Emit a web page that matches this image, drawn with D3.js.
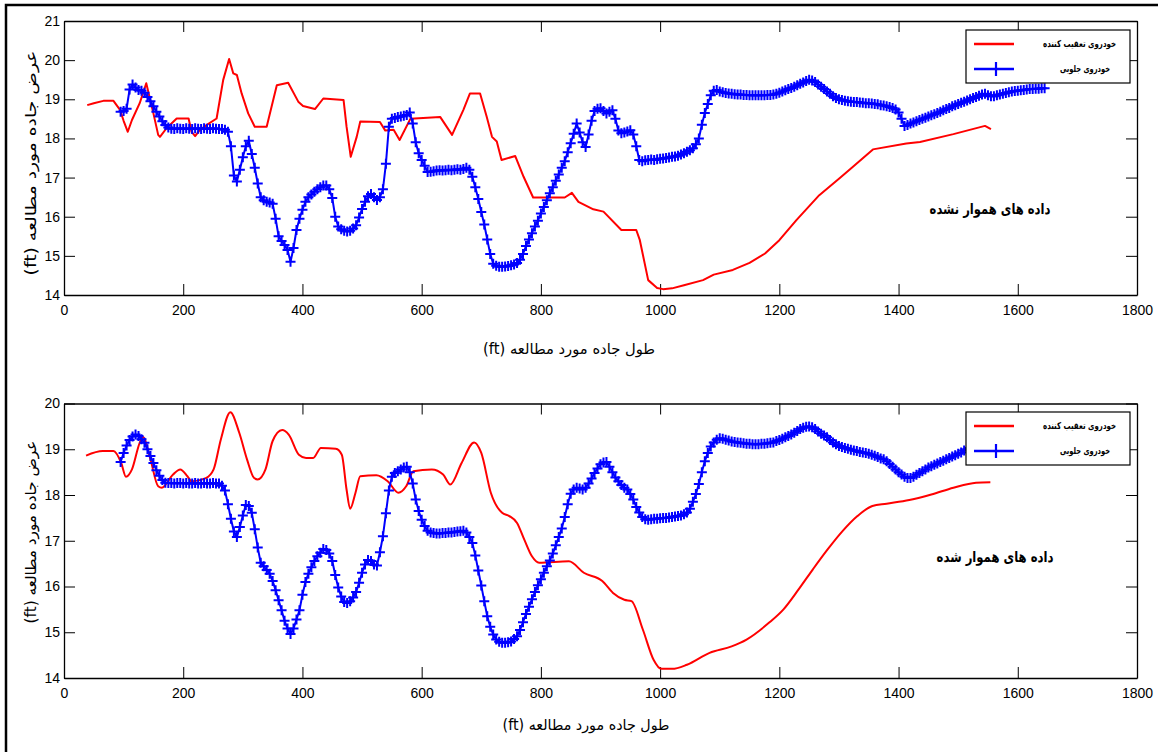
<!DOCTYPE html>
<html><head><meta charset="utf-8">
<script src="https://cdn.jsdelivr.net/npm/d3@7"></script>
<style>body{margin:0;background:#fff}svg{display:block}</style>
</head><body>
<svg id="c" width="1158" height="752"></svg>
<script>
// ---------- data ----------
const xTickValues = [0, 200, 400, 600, 800, 1000, 1200, 1400, 1600, 1800];
const yTicksTop = [14, 15, 16, 17, 18, 19, 20, 21];
const yTicksBottom = [14, 15, 16, 17, 18, 19, 20];

const legendLabels = ["خودروی تعقیب کننده", "خودروی جلویی"];
const yTitle = "عرض جاده مورد مطالعه (ft)";
const xTitle = "طول جاده مورد مطالعه (ft)";
const noteTop = "داده های هموار نشده";
const noteBottom = "داده های هموار شده";

// following vehicle (red), raw data - top panel
const redTopFt = [39,50,66,83,94,100,107,114,127,138,150,158,161,172,189,209,214,220,227,239,256,267,277,284,290,298,309,320,340,357,376,393,401,421,435,469,474,481,491,497,530,539,553,563,581,631,651,670,681,698,709,718,726,734,757,771,787,840,852,863,888,905,935,960,966,980,995,1005,1020,1040,1072,1090,1122,1150,1176,1200,1229,1267,1301,1324,1357,1413,1436,1492,1545,1555];
const redTopW = [18.85,18.90,18.96,18.96,18.73,18.45,18.17,18.47,18.90,19.41,18.64,18.09,18.04,18.26,18.51,18.51,18.17,18.06,18.20,18.34,18.51,19.49,20.03,19.66,19.62,19.15,18.64,18.30,18.30,19.36,19.42,18.94,18.83,18.75,19.02,18.98,18.30,17.53,18.04,18.43,18.42,18.20,18.22,17.96,18.50,18.55,18.09,18.73,19.15,19.15,18.56,18.04,17.92,17.45,17.55,17.02,16.49,16.49,16.61,16.38,16.19,16.13,15.66,15.66,15.40,14.38,14.18,14.15,14.17,14.25,14.38,14.52,14.64,14.82,15.06,15.40,15.92,16.55,16.98,17.28,17.72,17.87,17.91,18.11,18.32,18.24];

// leading vehicle (blue), raw data - top panel, sampled every 5 ft from 95 ft
const blueStartFt = 95, blueStepFt = 5;
const blueTopW = [
18.68,18.70,18.76,19.25,19.38,19.30,19.24,19.22,19.17,19.06,
18.95,18.82,18.68,18.56,18.44,18.34,18.28,18.25,18.24,18.26,
18.25,18.24,18.26,18.25,18.24,18.26,18.25,18.24,18.26,18.25,
18.24,18.26,18.25,18.24,18.24,18.22,18.17,17.80,17.05,16.90,
17.20,17.52,17.80,17.94,17.60,17.25,16.85,16.50,16.42,16.38,
16.36,16.33,15.95,15.50,15.38,15.28,15.15,14.85,15.20,15.66,
15.95,16.18,16.38,16.50,16.57,16.64,16.70,16.75,16.80,16.80,
16.70,16.48,16.00,15.75,15.68,15.64,15.62,15.64,15.70,15.78,
15.98,16.20,16.38,16.52,16.58,16.50,16.43,16.50,16.70,17.35,
18.30,18.50,18.52,18.55,18.56,18.58,18.60,18.66,18.38,17.90,
17.62,17.45,17.30,17.14,17.15,17.16,17.18,17.19,17.18,17.19,
17.20,17.19,17.20,17.21,17.20,17.22,17.25,17.20,17.02,16.75,
16.45,16.12,15.80,15.42,15.05,14.80,14.75,14.72,14.72,14.73,
14.74,14.76,14.78,14.82,14.90,15.05,15.25,15.42,15.58,15.75,
15.90,16.08,16.25,16.42,16.60,16.75,16.92,17.08,17.25,17.42,
17.65,17.88,18.12,18.38,18.15,17.90,17.78,18.10,18.45,18.70,
18.76,18.77,18.70,18.64,18.68,18.72,18.50,18.20,18.13,18.15,
18.18,18.21,18.10,17.80,17.45,17.42,17.44,17.45,17.46,17.45,
17.47,17.48,17.49,17.50,17.51,17.53,17.54,17.56,17.59,17.62,
17.66,17.70,17.75,17.85,18.00,18.35,18.65,18.88,19.10,19.22,
19.24,19.20,19.18,19.16,19.15,19.14,19.13,19.12,19.12,19.11,
19.11,19.10,19.10,19.10,19.10,19.10,19.10,19.11,19.11,19.12,
19.14,19.17,19.20,19.23,19.26,19.29,19.32,19.36,19.40,19.43,
19.47,19.50,19.48,19.44,19.38,19.32,19.26,19.20,19.14,19.08,
19.03,19.00,18.98,18.96,18.95,18.94,18.93,18.93,18.92,18.91,
18.90,18.90,18.89,18.88,18.87,18.85,18.84,18.82,18.80,18.78,
18.74,18.66,18.50,18.32,18.34,18.38,18.41,18.44,18.47,18.50,
18.53,18.56,18.59,18.62,18.65,18.68,18.72,18.75,18.78,18.82,
18.85,18.88,18.91,18.94,18.97,19.00,19.03,19.06,19.09,19.12,
19.14,19.10,19.08,19.08,19.10,19.12,19.14,19.16,19.18,19.20,
19.21,19.22,19.23,19.24,19.25,19.26,19.26,19.27,19.27,19.28,
19.28];

// following vehicle (red), smoothed - bottom panel
const redBotFt = [37,65,83,96,104,114,127,133,145,158,164,183,195,207,214,238,251,263,279,294,307,319,325,338,350,366,377,394,406,418,431,456,466,474,480,489,497,524,543,561,574,586,617,636,648,667,688,700,716,735,747,760,772,785,797,847,872,903,921,940,952,971,989,1002,1020,1045,1083,1120,1145,1182,1207,1232,1256,1281,1306,1331,1356,1380,1418,1455,1492,1530,1554];
const redBotW = [18.86,18.96,18.96,18.70,18.40,18.56,19.14,19.27,18.78,18.19,18.16,18.45,18.56,18.41,18.30,18.37,18.56,19.21,19.81,19.36,18.78,18.37,18.34,18.56,19.18,19.42,19.32,18.88,18.81,18.81,19.03,19.01,18.88,18.12,17.70,18.05,18.41,18.43,18.30,18.05,18.19,18.52,18.56,18.45,18.23,18.70,19.15,18.92,18.05,17.61,17.54,17.39,17.03,16.66,16.52,16.55,16.30,16.12,15.86,15.71,15.68,15.06,14.40,14.20,14.20,14.29,14.55,14.69,14.84,15.20,15.50,15.93,16.37,16.81,17.21,17.54,17.76,17.81,17.89,18.01,18.16,18.27,18.28];

// leading vehicle (blue), smoothed - bottom panel, every 5 ft from 95 ft
const blueBotW = [
18.72,18.92,19.08,19.20,19.28,19.32,19.29,19.22,19.14,19.00,
18.85,18.70,18.54,18.42,18.33,18.27,18.26,18.26,18.25,18.26,
18.26,18.25,18.26,18.25,18.25,18.26,18.25,18.25,18.26,18.25,
18.25,18.26,18.25,18.25,18.20,18.10,17.80,17.48,17.20,17.08,
17.30,17.55,17.78,17.76,17.61,17.25,16.85,16.52,16.44,16.36,
16.28,16.12,15.92,15.70,15.48,15.25,15.08,14.96,15.08,15.28,
15.48,15.82,16.10,16.28,16.42,16.56,16.66,16.74,16.82,16.80,
16.72,16.56,16.25,15.98,15.78,15.66,15.64,15.68,15.76,15.88,
16.08,16.30,16.48,16.58,16.56,16.48,16.46,16.75,17.10,17.60,
18.10,18.40,18.48,18.52,18.56,18.60,18.62,18.50,18.25,17.90,
17.65,17.46,17.32,17.22,17.18,17.17,17.16,17.16,17.17,17.17,
17.18,17.18,17.19,17.20,17.21,17.22,17.18,17.08,16.95,16.68,
16.35,16.02,15.68,15.35,15.12,14.95,14.84,14.79,14.77,14.77,
14.78,14.80,14.85,14.91,15.05,15.22,15.40,15.56,15.72,15.88,
16.03,16.16,16.30,16.44,16.57,16.72,16.90,17.08,17.27,17.52,
17.80,18.03,18.12,18.16,18.14,18.12,18.16,18.25,18.36,18.48,
18.58,18.67,18.71,18.72,18.62,18.50,18.38,18.30,18.22,18.16,
18.12,18.02,17.90,17.74,17.62,17.52,17.47,17.46,17.47,17.48,
17.48,17.49,17.50,17.50,17.51,17.52,17.53,17.54,17.55,17.58,
17.62,17.70,17.85,18.02,18.24,18.50,18.74,18.92,19.06,19.15,
19.21,19.24,19.23,19.21,19.19,19.17,19.16,19.15,19.14,19.13,
19.12,19.12,19.11,19.11,19.11,19.12,19.12,19.13,19.14,19.15,
19.18,19.20,19.23,19.26,19.29,19.32,19.36,19.40,19.44,19.47,
19.49,19.50,19.48,19.44,19.39,19.34,19.30,19.26,19.20,19.15,
19.11,19.07,19.05,19.03,19.01,18.99,18.97,18.96,18.94,18.93,
18.92,18.90,18.88,18.86,18.83,18.80,18.78,18.74,18.68,18.62,
18.56,18.50,18.45,18.40,18.37,18.37,18.40,18.44,18.48,18.52,
18.56,18.60,18.63,18.66,18.69,18.72,18.75,18.78,18.81,18.84,
18.87,18.90,18.93,18.97,19.00,19.03,19.06,19.09,19.12,19.14,
19.15,19.14,19.13,19.13,19.14,19.16,19.18,19.19,19.21,19.22,
19.23,19.24,19.25,19.25,19.26,19.27,19.27,19.28,19.28,19.29,
19.29];

// ---------- drawing ----------
const svg = d3.select("#c");
const NUM_FONT = "'Liberation Sans', Arial, sans-serif";
const AR_FONT = "'DejaVu Sans', sans-serif";
const RED = "#ff0000", BLUE = "#0000ff";

// outer frame
svg.append("path").attr("d", "M6,760V5H1160").attr("fill", "none")
  .attr("stroke", "#000").attr("stroke-width", 2.5);

const zip = (xs, ys) => xs.map((v, i) => [v, ys[i]]);
const stepped = ys => ys.map((v, i) => [blueStartFt + i * blueStepFt, v]);

// Arabic text fitted horizontally to a target width
// align: "middle" (centered on x) or "right" (right edge on x)
function fitText(parent, str, opts) {
  const t = parent.append("text").attr("x", 0).attr("y", 0)
    .attr("text-anchor", opts.align === "right" ? "start" : "middle").attr("direction", "rtl")
    .attr("font-family", AR_FONT).attr("font-size", opts.size)
    .attr("font-weight", opts.bold ? "bold" : "normal").attr("fill", "#000").text(str);
  const w = t.node().getComputedTextLength();
  const s = opts.width / w;
  t.attr("transform", `translate(${opts.x},${opts.y})${opts.rotate ? " rotate(-90)" : ""} scale(${s},1)`);
  return t;
}

function panel(cfg) {
  const x = d3.scaleLinear().domain([0, 1800]).range([64, 1137]);
  const y = d3.scaleLinear().domain([14, cfg.yMax]).range([cfg.bot, cfg.top]);
  const g = svg.append("g");

  const styleAxis = sel => {
    sel.selectAll("path.domain").attr("stroke", "#000").attr("stroke-width", 1.3);
    sel.selectAll(".tick line").attr("stroke", "#000").attr("stroke-width", 1);
    sel.selectAll("text").attr("font-family", NUM_FONT).attr("font-size", 14).attr("fill", "#000");
  };
  g.append("g").attr("transform", `translate(0,${cfg.bot})`)
    .call(d3.axisBottom(x).tickValues(xTickValues).tickSize(-11).tickSizeOuter(0).tickPadding(10).tickFormat(d3.format("d")))
    .call(styleAxis);
  g.append("g").attr("transform", `translate(0,${cfg.top})`)
    .call(d3.axisTop(x).tickValues(xTickValues).tickSize(-11).tickSizeOuter(0).tickFormat(""))
    .call(styleAxis);
  g.append("g").attr("transform", `translate(64,0)`)
    .call(d3.axisLeft(y).tickValues(cfg.yTicks).tickSize(-11).tickSizeOuter(0).tickPadding(4).tickFormat(d3.format("d")))
    .call(styleAxis);
  g.append("g").attr("transform", `translate(1137,0)`)
    .call(d3.axisRight(y).tickValues(cfg.yTicks).tickSize(-11).tickSizeOuter(0).tickFormat(""))
    .call(styleAxis);

  const line = d3.line().x(d => x(d[0])).y(d => y(d[1])).curve(cfg.curve);
  const red = zip(cfg.redFt, cfg.redW);
  g.append("path").datum(red).attr("d", line).attr("fill", "none")
    .attr("stroke", RED).attr("stroke-width", 2).attr("stroke-linejoin", "round");

  const blue = stepped(cfg.blueW);
  g.append("path").datum(blue).attr("d", d3.line().x(d => x(d[0])).y(d => y(d[1])))
    .attr("fill", "none").attr("stroke", BLUE).attr("stroke-width", 2);
  const m = 5;
  g.append("g").selectAll("path").data(blue).join("path")
    .attr("d", d => `M${x(d[0]) - m},${y(d[1])}H${x(d[0]) + m}M${x(d[0])},${y(d[1]) - m}V${y(d[1]) + m}`)
    .attr("stroke", BLUE).attr("stroke-width", 2).attr("fill", "none");

  // annotation
  fitText(g, cfg.note, { x: cfg.noteX, y: cfg.noteY, size: 15, bold: true, width: cfg.noteW });

  // axis titles
  fitText(g, xTitle, { x: cfg.xTitleX, y: cfg.xTitleY, size: 15, width: cfg.xTitleW });
  fitText(g, yTitle, { x: 36, y: cfg.yTitleY, size: 15, width: cfg.yTitleW, rotate: true });

  // legend
  const L = cfg.leg;
  const lg = g.append("g");
  lg.append("rect").attr("x", 966).attr("y", L).attr("width", 164).attr("height", 53)
    .attr("fill", "#fff").attr("stroke", "#000").attr("stroke-width", 1.2);
  lg.append("line").attr("x1", 974).attr("x2", 1014).attr("y1", L + 14).attr("y2", L + 14)
    .attr("stroke", RED).attr("stroke-width", 2.5);
  lg.append("line").attr("x1", 974).attr("x2", 1014).attr("y1", L + 39).attr("y2", L + 39)
    .attr("stroke", BLUE).attr("stroke-width", 2.5);
  lg.append("path").attr("d", `M989,${L + 39}H1003M996,${L + 32}V${L + 46}`)
    .attr("stroke", BLUE).attr("stroke-width", 2.2);
  fitText(lg, legendLabels[0], { x: 1116, y: L + 17, size: 9.5, bold: true, width: 73, align: "right" });
  fitText(lg, legendLabels[1], { x: 1110, y: L + 42, size: 9.5, bold: true, width: 50, align: "right" });
}

panel({ top: 21, bot: 295, yMax: 21, yTicks: yTicksTop, redFt: redTopFt, redW: redTopW,
  blueW: blueTopW, curve: d3.curveLinear, note: noteTop, noteX: 990, noteY: 214, noteW: 121,
  xTitleX: 569, xTitleY: 354, xTitleW: 172, yTitleY: 163, yTitleW: 225, leg: 30 });
panel({ top: 403.5, bot: 678, yMax: 20, yTicks: yTicksBottom, redFt: redBotFt, redW: redBotW,
  blueW: blueBotW, curve: d3.curveMonotoneX, note: noteBottom, noteX: 995, noteY: 562, noteW: 117,
  xTitleX: 586, xTitleY: 730, xTitleW: 167, yTitleY: 532, yTitleW: 183, leg: 412 });
</script>
</body></html>
